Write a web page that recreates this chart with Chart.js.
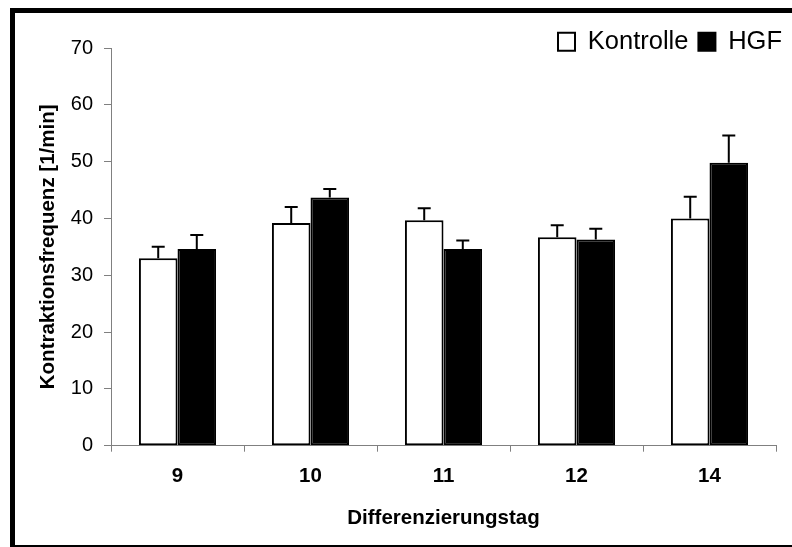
<!DOCTYPE html>
<html>
<head>
<meta charset="utf-8">
<script src="https://cdn.jsdelivr.net/npm/chart.js@4/dist/chart.umd.min.js"></script>
<style>
  html, body { margin: 0; padding: 0; background: #fff; overflow: hidden; }
  .frame {
    position: absolute; left: 10px; top: 8px; width: 820px; height: 532px;
    border-left: 5px solid #000; border-top: 5px solid #000; border-bottom: 5px solid #000;
  }
  #chart { position: absolute; left: 0; top: 0; }
</style>
</head>
<body>
<div class="frame"></div>
<canvas id="chart" width="792" height="547"></canvas>
<script>
const days = ["9", "10", "11", "12", "14"];
const kontrolle = [33.0, 39.2, 39.7, 36.7, 40.0];
const kontrolleErr = [2.0, 2.8, 2.1, 2.1, 3.8];
const hgf = [34.6, 43.7, 34.6, 36.3, 49.8];
const hgfErr = [2.5, 1.5, 1.5, 1.9, 4.8];
const yTicks = [0, 10, 20, 30, 40, 50, 60, 70];

const fontFamily = "'Liberation Sans', Arial, sans-serif";
const axisGray = "#808080";

// error bars, upwards only
const errorBars = {
  id: "errorBars",
  afterDatasetsDraw(chart) {
    const { ctx } = chart;
    const y = chart.scales.y;
    ctx.save();
    ctx.strokeStyle = "#000000";
    ctx.lineWidth = 2;
    chart.data.datasets.forEach((ds, i) => {
      const meta = chart.getDatasetMeta(i);
      meta.data.forEach((bar, j) => {
        const top = y.getPixelForValue(ds.data[j] + ds.errors[j]);
        ctx.beginPath();
        ctx.moveTo(bar.x, bar.y);
        ctx.lineTo(bar.x, top);
        ctx.moveTo(bar.x - 6.5, top);
        ctx.lineTo(bar.x + 6.5, top);
        ctx.stroke();
      });
    });
    ctx.restore();
  },
};

// move the legend into the top right corner
const legendShift = {
  id: "legendShift",
  afterLayout(chart) {
    const l = chart.legend;
    l.left += 16;
    l.right += 16;
    l.top += 16.5;
    l.bottom += 16.5;
  },
};

const options = {
  type: "bar",
  data: {
    labels: days,
    datasets: [
      {
        label: "Kontrolle",
        data: kontrolle,
        errors: kontrolleErr,
        backgroundColor: "#ffffff",
        borderColor: "#000000",
        borderWidth: 2,
        borderSkipped: false,
      },
      {
        label: "HGF",
        data: hgf,
        errors: hgfErr,
        backgroundColor: "#000000",
        borderColor: "#000000",
        borderWidth: 2,
        borderSkipped: false,
      },
    ],
  },
  options: {
    responsive: false,
    animation: false,
    categoryPercentage: 0.58,
    barPercentage: 1,
    layout: { padding: { top: 2.5, right: 16, bottom: 0, left: 0 } },
    plugins: {
      tooltip: { enabled: false },
      legend: {
        position: "top",
        align: "end",
        labels: {
          color: "#000000",
          font: { family: fontFamily, size: 25.5 },
          boxWidth: 17,
          boxHeight: 18,
          padding: 10,
        },
      },
    },
    scales: {
      x: {
        afterFit: (scale) => { scale.height = 101.3; },
        grid: {
          offset: true,
          drawOnChartArea: false,
          drawTicks: true,
          tickLength: 6,
          color: axisGray,
        },
        border: { color: axisGray, width: 1 },
        ticks: {
          color: "#000000",
          padding: 12.5,
          font: { family: fontFamily, size: 20.5, weight: "bold" },
        },
        title: {
          display: true,
          text: "Differenzierungstag",
          color: "#000000",
          padding: { top: 0, bottom: 16.7 },
          font: { family: fontFamily, size: 20.5, weight: "bold" },
        },
      },
      y: {
        min: 0,
        max: 70,
        afterFit: (scale) => { scale.width = 111; },
        afterBuildTicks: (scale) => {
          scale.ticks = yTicks.map((v) => ({ value: v }));
        },
        grid: {
          drawOnChartArea: false,
          drawTicks: true,
          tickLength: 7,
          color: axisGray,
        },
        border: { color: axisGray, width: 1 },
        ticks: {
          color: "#000000",
          padding: 11,
          font: { family: fontFamily, size: 20 },
        },
        title: {
          display: true,
          text: "Kontraktionsfrequenz [1/min]",
          color: "#000000",
          padding: { top: 35.7, bottom: 0 },
          font: { family: fontFamily, size: 20.5, weight: "bold" },
        },
      },
    },
  },
  plugins: [errorBars, legendShift],
};

const canvas = document.querySelector("#chart");
const contractionChart = new Chart(canvas, options);
</script>
</body>
</html>
